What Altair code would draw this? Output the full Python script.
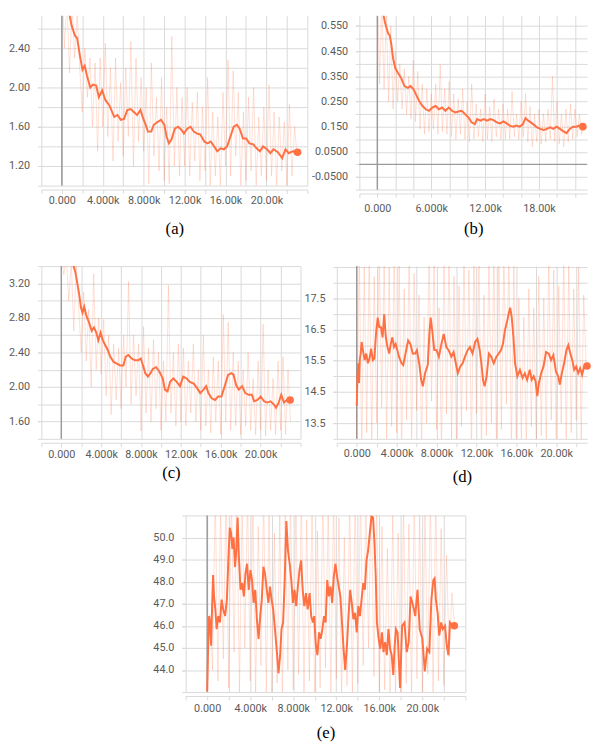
import altair as alt
import pandas as pd

ORANGE = "#ff7043"
GRID = "#d9d9d9"
ZERO = "#9a9a9a"
LABEL = "#5a5a5a"

# shared raw logging steps (every 250 steps)
RAW_STEPS = list(range(0, 23001, 250))

# ---------------- panel (a) ----------------
a_sx = [0, 320, 640, 960, 1280, 1500, 1760, 2020, 2240, 2460,
        2780, 3040, 3360, 3620, 3940, 4260, 4640, 5120, 5440, 5760,
        6080, 6400, 6720, 7040, 7360, 7680, 7900, 8160, 8420, 8740,
        8990, 9380, 9700, 10020, 10240, 10460, 10720, 11040, 11360, 11680,
        11940, 12260, 12580, 12900, 13220, 13540, 13920, 14240, 14560, 14880,
        15200, 15520, 15840, 16160, 16480, 16800, 17120, 17380, 17700, 18020,
        18340, 18720, 19040, 19360, 19680, 20060, 20380, 20700, 21120, 21540,
        21860, 22180, 22560, 23040]
a_sy = [3.10, 2.95, 2.80, 2.63, 2.53, 2.50, 2.33, 2.18, 2.22, 2.12,
        2.00, 2.03, 2.02, 1.90, 1.97, 1.87, 1.82, 1.70, 1.72, 1.67,
        1.68, 1.77, 1.78, 1.75, 1.72, 1.77, 1.70, 1.63, 1.55, 1.55,
        1.62, 1.65, 1.67, 1.62, 1.50, 1.43, 1.47, 1.58, 1.60, 1.57,
        1.53, 1.58, 1.60, 1.55, 1.53, 1.52, 1.45, 1.43, 1.45, 1.40,
        1.35, 1.38, 1.37, 1.40, 1.50, 1.60, 1.62, 1.58, 1.48, 1.48,
        1.43, 1.42, 1.38, 1.35, 1.40, 1.37, 1.33, 1.37, 1.34, 1.28,
        1.37, 1.33, 1.35, 1.34]
a_raw = [3.2, 2.4, 2.9, 2.15, 2.85, 2.3, 2.75, 2.2,
         1.75, 2.4, 1.9, 2.3, 1.6, 2.25, 1.35, 2.3,
         1.6, 2.45, 1.5, 2.2, 1.25, 2.3, 1.45, 2.05,
         1.3, 2.2, 1.5, 2.47, 1.2, 2.3, 1.45, 2.1,
         1.35, 2.0, 1.02, 2.25, 1.3, 1.9, 1.15, 2.1,
         1.05, 1.8, 1.02, 2.52, 1.2, 2.0, 1.1, 1.9,
         1.2, 2.0, 1.1, 1.85, 1.25, 1.95, 1.05, 1.8,
         1.15, 2.1, 0.98, 1.75, 1.1, 1.7, 1.0, 1.95,
         1.2, 2.28, 1.1, 2.17, 1.3, 1.95, 1.0, 1.75,
         1.05, 1.9, 1.15, 2.0, 1.0, 1.7, 1.1, 1.8,
         1.05, 2.03, 1.1, 1.75, 1.0, 1.7, 1.15, 1.65,
         1.0, 1.83, 1.1, 1.6, 1.3]
a_ygrid = [1.0, 1.2, 1.4, 1.6, 1.8, 2.0, 2.2, 2.4, 2.6, 2.8]
a_ylab = [1.2, 1.6, 2.0, 2.4]

# ---------------- panel (b) ----------------
b_sx = [0, 550, 840, 1200, 1380, 1570, 1750, 2000, 2300, 2660,
        3020, 3390, 3680, 4040, 4300, 4660, 5030, 5390, 5760, 6120,
        6490, 6850, 7210, 7580, 7940, 8310, 8670, 9040, 9400, 9760,
        10130, 10490, 10860, 11110, 11480, 11840, 12200, 12570, 12930, 13300,
        13660, 14030, 14390, 14750, 15120, 15480, 15850, 16210, 16500, 16790,
        17090, 17410, 17780, 18140, 18510, 18870, 19240, 19600, 19960, 20330,
        20690, 21060, 21420, 21790, 22150, 22510, 22880]
b_sy = [0.75, 0.618, 0.566, 0.52, 0.513, 0.474, 0.422, 0.383, 0.363, 0.343,
        0.311, 0.304, 0.311, 0.298, 0.278, 0.252, 0.232, 0.219, 0.213, 0.226,
        0.232, 0.219, 0.226, 0.213, 0.226, 0.213, 0.206, 0.21, 0.213, 0.2,
        0.187, 0.167, 0.16, 0.18, 0.174, 0.18, 0.174, 0.18, 0.176, 0.167,
        0.163, 0.171, 0.163, 0.154, 0.15, 0.154, 0.15, 0.16, 0.184, 0.174,
        0.167, 0.158, 0.147, 0.141, 0.137, 0.141, 0.147, 0.141, 0.15, 0.141,
        0.132, 0.124, 0.141, 0.15, 0.15, 0.154, 0.15]
b_raw = [0.7, 0.32, 0.65, 0.3, 0.6, 0.25, 0.55, 0.22,
         0.45, 0.25, 0.4, 0.22, 0.38, 0.2, 0.35, 0.18,
         0.415, 0.17, 0.37, 0.14, 0.32, 0.12, 0.3, 0.13,
         0.28, 0.14, 0.32, 0.12, 0.396, 0.13, 0.3, 0.12,
         0.33, 0.11, 0.28, 0.1, 0.26, 0.12, 0.3, 0.1,
         0.25, 0.09, 0.32, 0.1, 0.24, 0.11, 0.22, 0.09,
         0.28, 0.1, 0.23, 0.09, 0.26, 0.11, 0.22, 0.1,
         0.24, 0.1, 0.22, 0.1, 0.29, 0.11, 0.2, 0.1,
         0.25, 0.11, 0.28, 0.09, 0.23, 0.07, 0.2, 0.09,
         0.22, 0.08, 0.2, 0.09, 0.22, 0.1, 0.35, 0.09,
         0.25, 0.08, 0.2, 0.07, 0.22, 0.09, 0.24, 0.1,
         0.22, 0.11, 0.2, 0.12, 0.16]
b_ygrid = [-0.1, -0.05, 0.0, 0.05, 0.1, 0.15, 0.2, 0.25, 0.3, 0.35,
           0.4, 0.45, 0.5, 0.55, 0.6]
b_ylab = [-0.05, 0.05, 0.15, 0.25, 0.35, 0.45, 0.55]

# ---------------- panel (c) ----------------
c_sx = [0, 600, 1210, 1410, 1640, 1800, 1970, 2130, 2300, 2530,
        2790, 3050, 3280, 3510, 3710, 3940, 4170, 4430, 4690, 4920,
        5250, 5580, 5900, 6230, 6460, 6720, 7050, 7380, 7710, 7970,
        8200, 8430, 8690, 8950, 9180, 9510, 9840, 10170, 10400, 10660,
        10920, 11250, 11580, 11910, 12230, 12560, 12890, 13280, 13610, 13940,
        14270, 14530, 14760, 15090, 15420, 15740, 16070, 16400, 16730, 17060,
        17290, 17550, 17810, 18140, 18470, 18790, 19120, 19350, 19680, 20010,
        20340, 20660, 20990, 21320, 21550, 21810, 22070, 22340, 22630, 22960]
c_sy = [3.9, 3.6, 3.41, 3.33, 3.18, 3.07, 2.92, 2.86, 2.93, 2.82,
        2.745, 2.65, 2.69, 2.63, 2.54, 2.63, 2.54, 2.48, 2.42, 2.35,
        2.29, 2.27, 2.25, 2.25, 2.35, 2.37, 2.33, 2.31, 2.31, 2.33,
        2.25, 2.16, 2.12, 2.16, 2.21, 2.23, 2.18, 2.10, 1.97, 1.95,
        2.06, 2.10, 2.06, 2.01, 2.12, 2.10, 2.06, 2.04, 1.99, 1.93,
        1.97, 2.01, 1.93, 1.87, 1.85, 1.89, 1.89, 2.01, 2.14, 2.16,
        2.14, 2.02, 1.97, 2.01, 1.93, 1.91, 1.91, 1.835, 1.85, 1.89,
        1.835, 1.82, 1.835, 1.80, 1.76, 1.82, 1.91, 1.82, 1.85, 1.85]
c_raw = [3.6, 3.3, 3.5, 3.0, 3.45, 2.65, 3.4, 2.9,
         2.4, 3.1, 2.3, 2.9, 2.0, 3.31, 2.2, 2.8,
         2.15, 2.78, 1.9, 2.6, 1.68, 2.5, 1.85, 2.45,
         1.75, 2.6, 2.0, 3.22, 1.8, 2.6, 1.9, 2.5,
         1.49, 2.7, 1.7, 2.45, 1.6, 2.55, 1.75, 2.4,
         1.5, 2.3, 1.6, 3.18, 1.7, 2.4, 1.55, 2.5,
         1.6, 2.45, 1.55, 2.3, 1.7, 2.5, 1.6, 2.2,
         1.5, 2.6, 1.55, 2.2, 1.47, 2.35, 1.6, 2.3,
         1.45, 2.84, 1.6, 2.75, 1.5, 2.4, 1.55, 2.3,
         1.45, 2.2, 1.55, 2.4, 1.5, 2.1, 1.45, 2.3,
         1.5, 2.73, 1.43, 2.2, 1.5, 2.1, 1.45, 2.3,
         1.5, 2.35, 1.45, 2.2, 1.6]
c_ygrid = [1.4, 1.6, 1.8, 2.0, 2.2, 2.4, 2.6, 2.8, 3.0, 3.2, 3.4]
c_ylab = [1.6, 2.0, 2.4, 2.8, 3.2]

# ---------------- panel (d) ----------------
d_sx = [0, 70, 160, 230, 300, 390, 490, 620, 790, 950,
        1120, 1280, 1440, 1610, 1770, 1930, 2100, 2260, 2430, 2590,
        2750, 2920, 3080, 3250, 3410, 3570, 3740, 3900, 4070, 4230,
        4490, 4660, 4890, 5150, 5380, 5610, 5870, 6030, 6260, 6460,
        6620, 6850, 7120, 7280, 7410, 7570, 7770, 8000, 8230, 8490,
        8720, 8980, 9210, 9480, 9710, 9930, 10130, 10360, 10620, 10850,
        11120, 11340, 11610, 11870, 12100, 12330, 12490, 12660, 12820, 13020,
        13250, 13480, 13740, 14000, 14230, 14460, 14660, 14850, 15050, 15250,
        15380, 15540, 15710, 15870, 16100, 16360, 16620, 16850, 17080, 17340,
        17540, 17740, 17930, 18100, 18260, 18490, 18720, 18980, 19250, 19480,
        19710, 19970, 20200, 20360, 20560, 20790, 21020, 21210, 21410, 21610,
        21800, 22000, 22200, 22390, 22590, 22790, 23080]
d_sy = [14.06, 15.0, 15.42, 14.79, 15.52, 15.73, 16.1, 15.84, 15.52, 15.73,
        15.42, 15.57, 15.89, 15.52, 15.57, 16.36, 16.88, 16.57, 16.57, 16.25,
        16.99, 16.25, 15.94, 15.73, 16.04, 16.25, 15.94, 16.04, 15.84, 15.63,
        15.42, 15.36, 15.73, 16.15, 16.04, 15.73, 15.73, 15.84, 15.42, 14.89,
        14.68, 15.1, 15.36, 16.36, 16.88, 16.46, 15.84, 15.84, 15.63, 16.04,
        16.36, 15.94, 15.84, 15.63, 15.78, 15.42, 15.1, 15.31, 15.42, 15.63,
        15.84, 15.94, 15.73, 16.1, 16.2, 15.84, 15.42, 14.89, 14.68, 15.0,
        15.73, 15.63, 15.42, 15.63, 15.73, 15.84, 16.04, 16.46, 16.73, 17.04,
        17.2, 16.88, 16.25, 15.42, 15.0, 15.21, 14.95, 15.1, 14.89, 15.21,
        14.89, 15.0, 14.84, 14.37, 14.79, 15.1, 15.31, 15.78, 15.73, 15.52,
        15.68, 15.15, 15.0, 14.74, 15.1, 15.42, 15.84, 16.0, 15.73, 15.52,
        15.21, 15.31, 15.1, 15.26, 15.05, 15.31, 15.33]
d_raw = [13.0, 19, 12.5, 18.5, 13.2, 19, 12.8, 18.2,
         13.5, 19, 14.0, 18.8, 12.9, 18.5, 13.4, 19,
         13.2, 18.7, 12.5, 17.8, 13.6, 19, 12.7, 18.3,
         13.9, 17.6, 12.8, 16.9, 13.5, 19, 14.2, 18.7,
         13.3, 17.2, 12.6, 18.8, 13.8, 19, 13.0, 18.2,
         12.7, 17.9, 13.4, 19, 13.9, 18.4, 12.6, 19,
         13.8, 18.6, 12.7, 17.6, 13.1, 18.9, 13.5, 19,
         12.9, 18.6, 13.3, 19, 14.1, 19, 12.6, 18.8,
         12.5, 17.5, 13.0, 16.9, 12.7, 17.8, 13.4, 17.2,
         12.6, 18.2, 13.1, 17.5, 12.8, 19, 13.6, 18.4,
         12.8, 17.9, 13.5, 19, 12.7, 18.6, 13.2, 17.8,
         13.6, 18.5, 12.9, 17.6, 15.3]
d_ygrid = [13.0, 13.5, 14.0, 14.5, 15.0, 15.5, 16.0, 16.5, 17.0, 17.5, 18.0, 18.5]
d_ylab = [13.5, 14.5, 15.5, 16.5, 17.5]

# ---------------- panel (e) ----------------
e_sx = [0, 90, 180, 270, 370, 460, 550, 640, 760, 880,
        1030, 1190, 1340, 1490, 1670, 1830, 1980, 2100, 2220, 2340,
        2460, 2590, 2710, 2830, 2950, 3100, 3260, 3410, 3560, 3710,
        3860, 4020, 4170, 4320, 4470, 4620, 4780, 4930, 5080, 5230,
        5380, 5540, 5690, 5840, 5990, 6140, 6300, 6480, 6630, 6780,
        6910, 7060, 7210, 7360, 7510, 7670, 7820, 7970, 8120, 8270,
        8430, 8580, 8730, 8880, 9030, 9190, 9340, 9520, 9670, 9830,
        9950, 10100, 10250, 10400, 10560, 10710, 10860, 11010, 11160, 11320,
        11470, 11620, 11770, 11920, 12080, 12230, 12380, 12530, 12680, 12830,
        12990, 13140, 13290, 13440, 13590, 13750, 13900, 14050, 14200, 14350,
        14510, 14660, 14810, 14960, 15110, 15270, 15420, 15540, 15660, 15780,
        15940, 16090, 16240, 16390, 16540, 16700, 16850, 17000, 17150, 17300,
        17430, 17550, 17700, 17930, 18120, 18340, 18550, 18730, 18910, 19160,
        19340, 19550, 19760, 20000, 20230, 20440, 20650, 20840, 21020, 21140,
        21260, 21420, 21570, 21750, 21900, 22110, 22270, 22420, 22570, 22780,
        22970]
e_sy = [43.04, 45.1, 46.44, 46.15, 45.1, 46.9, 48.3, 47.33, 46.74, 45.85,
        46.44, 46.15, 47.19, 46.74, 46.44, 47.19, 49.1, 50.44, 50.22, 49.48,
        50.0, 48.67, 49.4, 50.9, 49.1, 47.63, 47.93, 47.33, 48.37, 48.81,
        47.63, 48.52, 48.07, 47.04, 47.63, 46.3, 45.41, 46.44, 47.19, 48.67,
        48.37, 47.63, 47.04, 47.78, 47.19, 46.74, 45.85, 44.81, 43.85, 44.67,
        45.85, 46.15, 48.07, 50.74, 49.41, 48.81, 48.07, 47.04, 47.63, 46.89,
        47.78, 48.52, 48.96, 47.63, 46.89, 47.48, 46.74, 47.48, 46.44, 46.15,
        46.44, 45.11, 44.67, 45.7, 45.41, 45.85, 46.44, 46.15, 48.07, 47.33,
        47.78, 47.04, 48.22, 48.81, 48.22, 47.78, 47.33, 46.15, 44.96, 44.0,
        45.11, 46.44, 47.63, 47.04, 46.3, 46.59, 45.7, 46.89, 46.44, 47.19,
        47.93, 47.63, 48.96, 49.41, 50.15, 50.96, 50.9, 49.85, 48.37, 46.15,
        45.41, 44.96, 45.7, 44.81, 45.26, 44.67, 45.85, 44.96, 44.67, 43.78,
        45.11, 45.85, 45.7, 43.19, 46.0, 46.15, 44.81, 45.26, 47.33, 46.89,
        46.44, 47.63, 45.85, 45.41, 43.93, 44.96, 44.81, 47.19, 48.07, 48.15,
        47.19, 46.59, 45.56, 46.15, 45.85, 46.0, 45.11, 44.67, 46.15, 46.0,
        46.0]
e_raw = [43.0, 46.5, 44.0, 52, 43.5, 51.5, 44.5, 52,
         43.2, 52, 44.8, 52, 43.0, 51.5, 45.0, 52,
         43.5, 51.8, 42.8, 50.5, 44.2, 52, 43.0, 51.3,
         42.7, 50.2, 43.4, 51.0, 42.5, 52, 44.0, 52,
         43.1, 51.5, 43.8, 52, 42.9, 50.8, 43.5, 51.7,
         42.6, 50.3, 43.2, 52, 44.1, 51.4, 42.8, 52,
         43.6, 50.9, 42.7, 50.0, 43.3, 51.8, 42.9, 52,
         43.4, 52, 44.2, 52, 45.0, 52, 43.7, 51.6,
         42.6, 50.5, 43.1, 49.5, 42.7, 51.2, 43.0, 50.2,
         42.6, 51.5, 43.4, 50.6, 42.8, 52, 43.6, 51.0,
         42.7, 51.3, 43.8, 52, 42.9, 51.9, 43.5, 50.4,
         43.3, 49.2, 44.6, 47.5, 46.0]
e_ygrid = [43.0, 44.0, 45.0, 46.0, 47.0, 48.0, 49.0, 50.0, 51.0]
e_ylab = [44.0, 45.0, 46.0, 47.0, 48.0, 49.0, 50.0]

X_TICKS = list(range(-2000, 24001, 2000))


def panel(sx, sy, raw, xdom, ydom, ygrid, ylab, x_every, x_max,
          caption, w, h, lab_pad, title_pad, hzero=False):
    xvals = [v for v in X_TICKS if xdom[0] <= v <= xdom[1]]
    yvals = [v for v in ygrid if ydom[0] - 1e-9 <= v <= ydom[1] + 1e-9]
    xexpr = (f"datum.value >= 0 && datum.value <= {x_max} && "
             f"datum.value % {x_every} == 0 ? format(datum.value, '.4s') : ''")
    yexpr = "replace(format(datum.value, '.3r'), '\u2212', '-')"
    xscale = alt.Scale(domain=xdom, nice=False, zero=False)
    yscale = alt.Scale(domain=ydom, nice=False, zero=False)
    X = alt.X("step:Q", scale=xscale,
              axis=alt.Axis(values=xvals, labelExpr=xexpr, grid=True,
                            gridColor=GRID, gridWidth=1, domain=True,
                            domainColor=GRID, offset=4, ticks=True,
                            tickSize=4, tickColor=GRID, labelFont="Roboto",
                            labelFontSize=11, labelColor=LABEL,
                            labelPadding=lab_pad, labelOverlap=False,
                            labelFlush=False, title=caption,
                            titleFont="Liberation Serif", titleFontSize=17,
                            titleFontWeight="normal", titleColor="black",
                            titlePadding=title_pad))
    # grid-only y axis (every grid line, no labels)
    Y_grid = alt.Y("value:Q", scale=yscale,
                   axis=alt.Axis(values=yvals, orient="left", grid=True,
                                 gridColor=GRID, gridWidth=1, domain=False,
                                 ticks=True, tickSize=4, tickColor=GRID,
                                 labels=False, title=None))
    # label y axis (only the labelled values)
    Y_lab = alt.Y("value:Q", scale=yscale,
                  axis=alt.Axis(values=ylab, orient="left", grid=False,
                                domain=False, ticks=True, tickSize=4,
                                tickColor=GRID, labelExpr=yexpr,
                                labelFont="Roboto", labelFontSize=11,
                                labelColor=LABEL, labelPadding=8,
                                labelOverlap=False, labelFlush=False,
                                title=None))
    Y_none = alt.Y("value:Q", scale=yscale, axis=None)
    df_s = pd.DataFrame(list(zip(sx, sy)), columns=["step", "value"])
    df_r = pd.DataFrame(list(zip(RAW_STEPS, raw)), columns=["step", "value"])
    layers = [
        alt.Chart(pd.DataFrame({"step": [0]})).mark_rule(
            color=ZERO, strokeWidth=1.5).encode(x=X)
    ]
    if hzero:
        layers.append(alt.Chart(pd.DataFrame({"value": [0.0]})).mark_rule(
            color=ZERO, strokeWidth=1.5).encode(y=Y_none))
    layers += [
        alt.Chart(df_r).mark_line(color=ORANGE, opacity=0.22, strokeWidth=1,
                                  clip=True).encode(x=X, y=Y_grid),
        alt.Chart(df_s).mark_line(color=ORANGE, strokeWidth=2,
                                  clip=True).encode(x=X, y=Y_lab),
        alt.Chart(df_s.tail(1)).mark_circle(color=ORANGE, size=60,
                                            opacity=1).encode(x=X, y=Y_none),
    ]
    return alt.layer(*layers).resolve_axis(y="independent").properties(
        width=w, height=h)


def spacer(w):
    return alt.Chart(pd.DataFrame({"step": [0], "value": [0]})).mark_point(
        opacity=0).encode(x=alt.X("step:Q", axis=None),
                          y=alt.Y("value:Q", axis=None)).properties(width=w, height=1)


pa = panel(a_sx, a_sy, a_raw, [-2000, 24000], [1.0, 2.73], a_ygrid, a_ylab,
           4000, 20000, "(a)", 271, 173, 1, 16)
pb = panel(b_sx, b_sy, b_raw, [-2000, 23350], [-0.1, 0.5905], b_ygrid, b_ylab,
           6000, 18000, "(b)", 232, 177, 5, 8, hzero=True)
pc = panel(c_sx, c_sy, c_raw, [-2000, 24000], [1.4, 3.4], c_ygrid, c_ylab,
           4000, 20000, "(c)", 264, 176, 2, 5)
pd_ = panel(d_sx, d_sy, d_raw, [-2000, 23090], [13.0, 18.53], d_ygrid, d_ylab,
            4000, 20000, "(d)", 255, 176, 1, 10)
pe = panel(e_sx, e_sy, e_raw, [-2000, 24000], [43.0, 51.0], e_ygrid, e_ylab,
           4000, 20000, "(e)", 285, 180, 3, 11)

row1 = alt.hconcat(pa, pb, spacing=53, bounds="flush")
row2 = alt.hconcat(pc, pd_, spacing=37, bounds="flush")
row3 = alt.hconcat(spacer(100), pe, spacing=47, bounds="flush")

chart = alt.vconcat(row1, row2, row3, spacing=29).properties(
    padding=0).configure_view(stroke=None)

chart.save("out.html", embed_options={"renderer": "svg", "actions": False})
